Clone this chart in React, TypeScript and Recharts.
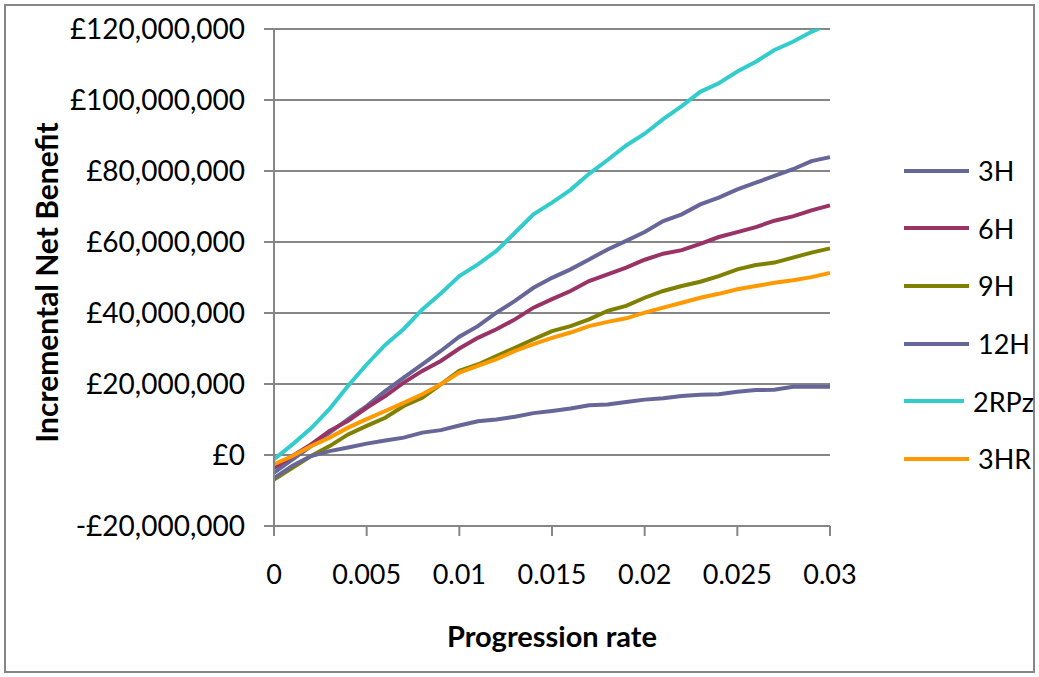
import React from "react";
import {
  LineChart,
  Line,
  XAxis,
  YAxis,
  CartesianGrid,
  Legend,
  Label,
} from "recharts";

// progression rate (x) and incremental net benefit in £ millions
const rates = [
  0, 0.001, 0.002, 0.003, 0.004, 0.005, 0.006, 0.007, 0.008, 0.009, 0.01,
  0.011, 0.012, 0.013, 0.014, 0.015, 0.016, 0.017, 0.018, 0.019, 0.02, 0.021,
  0.022, 0.023, 0.024, 0.025, 0.026, 0.027, 0.028, 0.029, 0.03,
];

const h3 = [
  -5, -1.2, 2.5, 6.3, 10.1, 13.8, 18, 21.8, 25.5, 29.3, 33.3, 36.3, 40.1, 43.4,
  47.1, 49.9, 52.3, 55.1, 57.9, 60.3, 62.8, 65.9, 67.8, 70.6, 72.5, 74.8, 76.7,
  78.6, 80.5, 82.8, 83.9,
];
const h6 = [
  -3.6, -0.3, 3, 6.8, 9.6, 13.3, 16.6, 20.4, 23.7, 26.5, 30, 33, 35.4, 38.2,
  41.5, 43.9, 46.2, 49, 50.9, 52.8, 55, 56.7, 57.7, 59.5, 61.4, 62.8, 64.2, 66,
  67.2, 68.9, 70.3,
];
const h9 = [
  -6.9, -3.6, -0.3, 2.5, 5.8, 8.2, 10.5, 13.8, 16.1, 19.9, 23.7, 25.5, 27.9,
  30.2, 32.6, 34.9, 36.3, 38.2, 40.6, 42, 44.3, 46.2, 47.6, 48.8, 50.4, 52.3,
  53.5, 54.2, 55.6, 57, 58.2,
];
const h12 = [
  -6.5, -3, -0.3, 1.1, 2.1, 3.2, 4.1, 4.9, 6.3, 7, 8.3, 9.5, 10, 10.8, 11.8,
  12.4, 13.1, 14, 14.2, 14.9, 15.6, 16, 16.6, 17, 17.1, 17.8, 18.3, 18.4, 19.2,
  19.2, 19.2,
];
const rpz2 = [
  -1.2, 3, 7.5, 13, 19.5, 25.5, 31, 35.5, 41, 45.5, 50.4, 53.7, 57.5, 62.6,
  67.8, 71.1, 74.7, 79.2, 83.1, 87.2, 90.5, 94.6, 98.3, 102.3, 104.7, 108,
  110.8, 114.1, 116.4, 119.2, 121.5,
];
const hr3 = [
  -2.6, -0.3, 2.5, 4.9, 7.7, 10.1, 12.4, 14.7, 17.1, 19.9, 23.2, 25.1, 27,
  29.3, 31.2, 33, 34.5, 36.3, 37.5, 38.5, 40.1, 41.5, 42.9, 44.3, 45.4, 46.7,
  47.6, 48.5, 49.2, 50.1, 51.3,
];

const xTicks = [0, 0.005, 0.01, 0.015, 0.02, 0.025, 0.03];
const yTicks = [-20, 0, 20, 40, 60, 80, 100, 120];

const series = [
  { key: "3H", values: h3, color: "#666699" },
  { key: "6H", values: h6, color: "#993366" },
  { key: "9H", values: h9, color: "#808000" },
  { key: "12H", values: h12, color: "#666699" },
  { key: "2RPz", values: rpz2, color: "#33CCCC" },
  { key: "3HR", values: hr3, color: "#FF9900" },
];

const data = rates.map((r, i) => {
  const row: Record<string, number> = { rate: r };
  series.forEach((s) => {
    row[s.key] = s.values[i];
  });
  return row;
});

const FONT = "Lato, 'Open Sans', sans-serif";
const GRID = "#868686";

const fmtMoney = (v: number) => {
  const n = Math.abs(v * 1e6).toLocaleString("en-GB");
  return v < 0 ? `-£${n}` : `£${n}`;
};

function LegendBox() {
  return (
    <div style={{ fontFamily: FONT }}>
      {series.map((s) => (
        <div
          key={s.key}
          style={{ display: "flex", alignItems: "center", height: 57.6 }}
        >
          <div
            style={{ width: 65, height: 4, background: s.color, marginRight: 9 }}
          />
          <span style={{ fontSize: 27, color: "#000" }}>{s.key}</span>
        </div>
      ))}
    </div>
  );
}

export default function App() {
  return (
    <div
      style={{
        position: "absolute",
        left: 0,
        top: 0,
        width: 1039,
        height: 677,
        background: "#fff",
      }}
    >
      <div
        style={{
          position: "absolute",
          left: 4,
          top: 4,
          width: 1031,
          height: 669,
          border: `2px solid ${GRID}`,
          boxSizing: "border-box",
        }}
      />
      <div style={{ position: "absolute", left: 0, top: 0 }}>
        <LineChart
          width={1039}
          height={677}
          data={data}
          margin={{ top: 29, right: 209, bottom: 10, left: 10 }}
          style={{ fontFamily: FONT }}
        >
          <CartesianGrid
            vertical={false}
            stroke={GRID}
            strokeWidth={2}
          />
          <XAxis
            dataKey="rate"
            type="number"
            domain={[0, 0.03]}
            ticks={xTicks}
            height={141}
            stroke={GRID}
            strokeWidth={2}
            tickSize={10}
            tickMargin={29}
            tick={{ fill: "#000", fontSize: 27, fontFamily: FONT }}
            tickFormatter={(v) => String(v)}
            interval={0}
          >
            <Label
              value="Progression rate"
              position="insideBottom"
              offset={20}
              style={{
                fill: "#000",
                fontSize: 29,
                fontWeight: 700,
                fontFamily: FONT,
              }}
            />
          </XAxis>
          <YAxis
            type="number"
            domain={[-20, 120]}
            ticks={yTicks}
            allowDataOverflow
            width={264}
            stroke={GRID}
            strokeWidth={2}
            tickSize={10}
            tickMargin={19}
            tick={{ fill: "#000", fontSize: 28, fontFamily: FONT }}
            tickFormatter={fmtMoney}
            interval={0}
          >
            <Label
              content={({ viewBox }: any) => {
                const x = viewBox.x + 36;
                const y = viewBox.y + viewBox.height / 2 + 5;
                return (
                  <text
                    x={x}
                    y={y}
                    transform={`rotate(-90 ${x} ${y})`}
                    textAnchor="middle"
                    dominantBaseline="central"
                    style={{
                      fill: "#000",
                      fontSize: 30,
                      fontWeight: 700,
                      fontFamily: FONT,
                    }}
                  >
                    Incremental Net Benefit
                  </text>
                );
              }}
            />
          </YAxis>
          <Legend
            layout="vertical"
            align="center"
            verticalAlign="middle"
            content={() => <LegendBox />}
            wrapperStyle={{ left: 904, top: 142, width: 130 }}
          />
          {series.map((s) => (
            <Line
              key={s.key}
              dataKey={s.key}
              type="linear"
              stroke={s.color}
              strokeWidth={4}
              dot={false}
              activeDot={false}
              isAnimationActive={false}
            />
          ))}
        </LineChart>
      </div>
    </div>
  );
}
